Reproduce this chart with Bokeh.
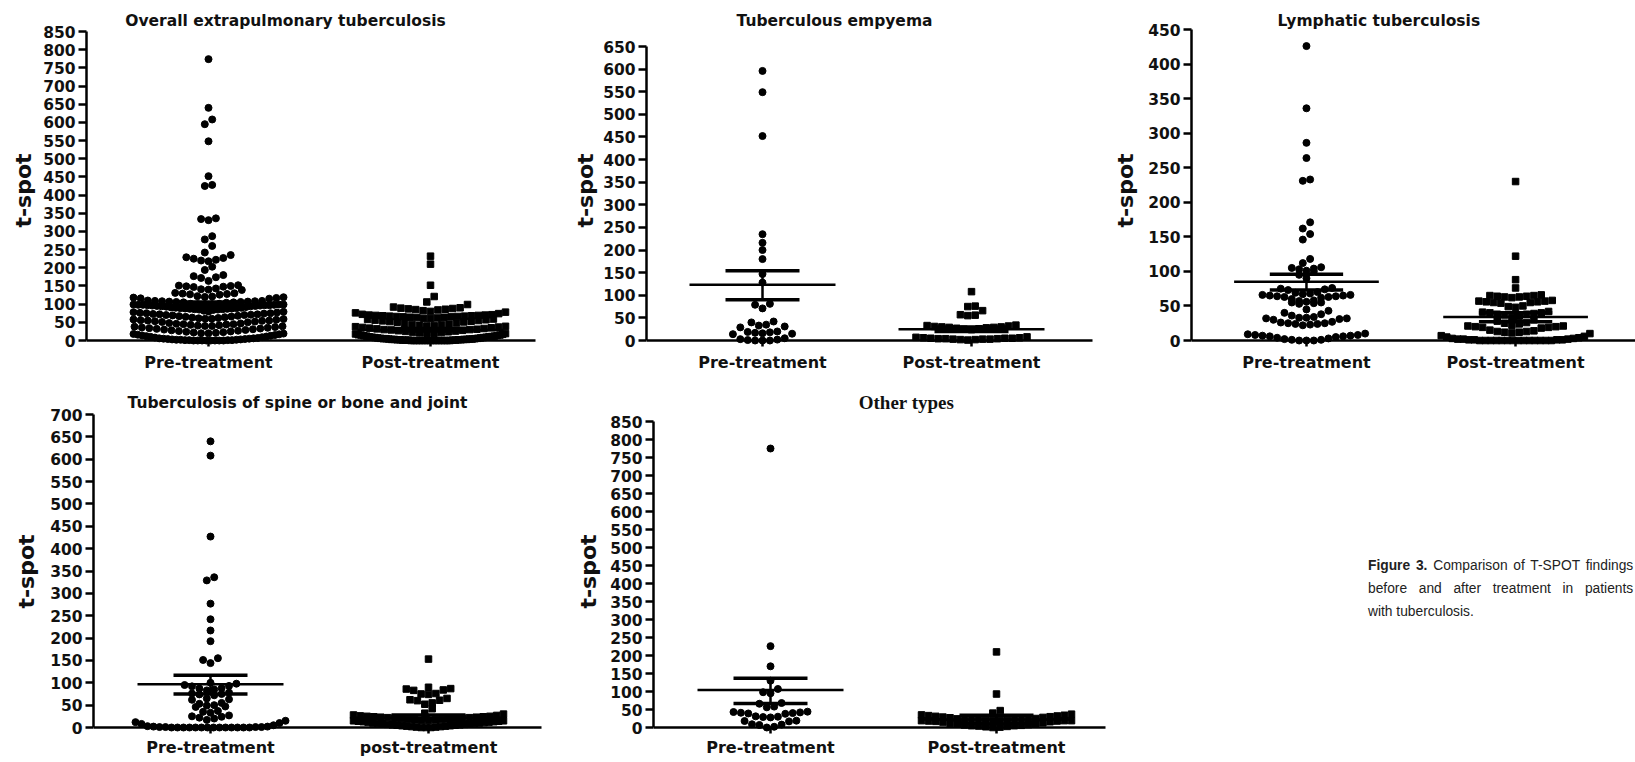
import numpy as np
from bokeh.plotting import figure
from bokeh.models import Range1d, FixedTicker, LinearAxis, Div
from bokeh.layouts import row, column
from bokeh.embed import file_html
from bokeh.resources import INLINE
from bokeh.core.properties import value

# ---------------- data ----------------
x_labels = ["Pre-treatment", "Post-treatment"]
x_labels_spine = ["Pre-treatment", "post-treatment"]

titles = ["Overall extrapulmonary tuberculosis", "Tuberculous empyema",
          "Lymphatic tuberculosis", "Tuberculosis of spine or bone and joint",
          "Other types"]

y_label = "t-spot"
y_tops = [850, 650, 450, 700, 850]

overall_pre = [774, 640, 608, 595, 548, 452, 428, 425, 336, 334, 331, 287, 278, 260, 242, 235,
               229, 227, 225, 222, 220, 218, 203, 194, 180, 177, 174, 172, 164, 152, 151, 150,
               149, 148, 147, 143, 141, 140, 139, 131, 130, 129, 128, 127, 126, 122, 121, 120,
               119, 118, 117, 116, 115, 110, 109, 109, 108, 108, 107, 107, 106, 106, 105, 105, 104,
               101, 101, 100, 100, 100, 99, 99, 99, 98, 98, 98, 97, 97, 97, 96, 96, 95, 95, 94, 94,
               93, 92, 91, 90, 90, 89, 89, 88, 88, 87, 87, 86, 86, 85, 85, 84,
               82, 80, 79, 78, 77, 76, 75, 75, 74, 73, 72, 72, 71, 70, 70, 69, 68, 67,
               66, 65, 64, 63, 62, 61, 60, 60, 59, 58, 57, 56, 55, 55, 54, 53, 52, 51, 50,
               48, 47, 46, 45, 45, 44, 43, 42, 41, 40, 40, 39, 38, 37, 36, 35, 34, 33, 32, 31, 30,
               29, 28, 27, 26, 25, 24, 23, 22, 21, 20, 20, 19, 18, 17, 16, 15, 14, 13, 12,
               11, 10, 9, 8, 7, 6, 6, 5, 5, 4, 4, 3, 3, 2, 2, 2, 1, 1, 1, 1, 0, 0, 0, 0, 0, 0, 0, 0]
overall_post = [232, 210, 152, 121, 106, 99, 92, 90, 89, 88, 87, 86, 85, 84, 82, 80, 78, 76, 74,
                72, 71, 70, 70, 69, 69, 68, 68, 67, 67, 66, 66, 65, 65, 64, 64, 63, 62, 61, 60,
                59, 58, 57, 56, 55, 54, 53, 52, 51, 50, 48, 46, 45, 44, 43, 42, 41, 40, 39, 38,
                37, 36, 35, 34, 33, 32, 31, 30, 30, 29, 28, 27, 26, 25, 24, 23, 22, 21, 20, 20,
                19, 18, 17, 16, 15, 15, 14, 13, 12, 12, 11, 10, 10, 9, 9, 8, 8, 7, 7, 6, 6, 5, 5,
                5, 4, 4, 4, 3, 3, 3, 3, 2, 2, 2, 2, 1, 1, 1, 1, 1, 0, 0, 0, 0, 0, 0, 0, 0, 0, 0,
                0, 0, 0, 0, 0]

empyema_pre = [596, 549, 452, 235, 216, 200, 180, 147, 128, 81, 79, 71, 42, 40, 35, 33, 31, 29,
               20, 19, 18, 17, 16, 15, 14, 5, 3, 2, 1, 0, 0, 0]
empyema_post = [108, 76, 75, 66, 57, 56, 55, 34, 33, 32, 31, 30, 30, 29, 29, 28, 27, 26, 25, 24,
                8, 7, 6, 6, 5, 5, 5, 4, 4, 4, 3, 3, 3, 2, 2, 1]

lymph_pre = [426, 336, 286, 264, 233, 231, 171, 162, 154, 146, 118, 112, 106, 105, 104, 103, 101,
             100, 95, 90, 76, 75, 74, 73, 70, 69, 68, 67, 66, 66, 65, 65, 64, 64, 63, 63, 62, 60,
             58, 57, 56, 55, 55, 54, 53, 45, 43, 40, 38, 36, 34, 33, 33, 32, 32, 31, 30, 27, 26,
             25, 25, 24, 24, 23, 22, 10, 9, 8, 8, 7, 7, 6, 6, 5, 4, 3, 2, 1, 1, 0, 0, 0]
lymph_post = [230, 122, 88, 76, 66, 65, 65, 64, 64, 63, 63, 62, 58, 57, 57, 56, 56, 55, 55, 54,
              50, 49, 48, 42, 41, 40, 40, 39, 38, 38, 37, 35, 33, 30, 28, 26, 25, 24, 22, 21, 21,
              20, 20, 19, 19, 18, 15, 14, 13, 13, 12, 12, 11, 10, 7, 6, 5, 4, 3, 3, 2, 2, 2, 1, 1,
              1, 1, 0, 0, 0, 0, 0, 0, 0, 0, 0, 0, 0, 0, 0, 0]

spine_pre = [640, 608, 427, 336, 329, 277, 242, 217, 193, 155, 151, 144, 100, 98, 95, 93, 92, 88,
             87, 85, 83, 78, 76, 75, 74, 72, 65, 63, 62, 55, 53, 50, 49, 47, 46, 37, 35, 33, 27,
             25, 24, 22, 20, 17, 15, 12, 10, 8, 5, 3, 2, 2, 1, 1, 1, 1, 0, 0, 0, 0, 0, 0, 0, 0,
             0, 0, 0, 0, 0, 0]
spine_post = [153, 90, 87, 86, 84, 83, 76, 75, 74, 65, 62, 61, 60, 55, 52, 42, 32, 30, 28, 27, 26,
              25, 25, 24, 24, 23, 23, 22, 22, 21, 21, 20, 20, 19, 18, 18, 17, 17, 16, 16, 15, 15,
              14, 14, 13, 13, 12, 12, 11, 10, 10, 9, 9, 8, 8, 7, 7, 6, 6, 5, 5, 4, 4, 3, 3, 2, 2,
              1, 1, 0, 0, 0]

other_pre = [775, 226, 170, 130, 107, 98, 95, 68, 66, 58, 56, 44, 43, 42, 41, 40, 39, 38, 31, 30,
             29, 28, 19, 18, 17, 9, 8, 7, 2, 0]
other_post = [210, 93, 47, 40, 37, 35, 34, 33, 32, 31, 30, 29, 28, 27, 25, 24, 23, 22, 22, 21, 21,
              21, 20, 20, 20, 20, 19, 19, 19, 18, 18, 17, 16, 15, 13, 12, 10, 9, 8, 7, 6, 5, 5, 4,
              3, 2, 1, 0]

# mean and SEM: [pre, post]
means = [[98, 29], [123, 25], [85, 34], [97, 22], [104, 22]]
sem_hi = [[106, 33], [154, 30], [96, 40], [117, 28], [137, 34]]
sem_lo = [[90, 26], [90, 20], [73, 27], [75, 17], [67, 10]]

# ---------------- layout geometry (screen pixels, page origin) ----------------
geo = [
    dict(fl=0,    ft=0,   fw=566, fh=380, frl=86,   z=340, t=31,  c1=208,  c2=430,  ae=535,  tx=285,  ty=20),
    dict(fl=566,  ft=0,   fw=544, fh=380, frl=646,  z=340, t=46,  c1=762,  c2=971,  ae=1092, tx=834,  ty=20),
    dict(fl=1110, ft=0,   fw=525, fh=380, frl=1187, z=340, t=29,  c1=1303, c2=1514, ae=1635, tx=1376, ty=20),
    dict(fl=0,    ft=380, fw=566, fh=382, frl=93,   z=727, t=414, c1=210,  c2=428,  ae=541,  tx=297,  ty=402),
    dict(fl=566,  ft=380, fw=544, fh=382, frl=653,  z=727, t=421, c1=770,  c2=996,  ae=1105, tx=906,  ty=402),
]
label_standoffs = [4, 2, 7, 8, 6]

DOT = 7.0
SQ = 6.5
MEAN_W = 146.0
SEM_W = 74.0


def swarm(vals, ppx, ppy, bin_px=7.0, step_px=7.4, max_px=150.0):
    vals = np.asarray(vals, float)
    order = np.argsort(vals, kind="stable")
    xs = np.zeros(len(vals))
    bins, cur, start = [], [], None
    for i in order:
        ypx = vals[i] * ppy
        if start is None or ypx - start >= bin_px:
            if cur:
                bins.append(cur)
            cur, start = [i], ypx
        else:
            cur.append(i)
    if cur:
        bins.append(cur)
    for b in bins:
        n = len(b)
        step = step_px if n <= 1 else min(step_px, max_px / (n - 1))
        slots = sorted(range(n), key=lambda s: (abs(s - (n - 1) / 2.0), s))
        for k, i in enumerate(b):
            xs[i] = (slots[k] - (n - 1) / 2.0) * step / ppx
    return xs


def make_panel(idx, pre, post, labels, title_font, title_size, label_standoff):
    g = geo[idx]
    top = y_tops[idx]
    ppy = (g["z"] - g["t"]) / top
    ppx = float(g["c2"] - g["c1"])
    frame_right = g["fl"] + g["fw"]
    frame_bottom = g["ft"] + g["fh"]
    y0 = -(frame_bottom - g["z"]) / ppy
    y1 = top + (g["t"] - g["ft"]) / ppy
    x0 = 1 - (g["c1"] - g["frl"]) / ppx
    x1 = 1 + (frame_right - g["c1"]) / ppx
    xae = 1 + (g["ae"] - g["c1"]) / ppx

    p = figure(width=g["fw"], height=g["fh"], x_range=Range1d(x0, x1), y_range=Range1d(y0, y1),
               x_axis_type=None, y_axis_type=None, toolbar_location=None, output_backend="svg",
               min_border_left=g["frl"] - g["fl"], min_border_right=0, min_border_top=0,
               min_border_bottom=0)
    p.outline_line_color = None
    p.background_fill_color = "white"
    p.border_fill_color = "white"

    yax = LinearAxis(ticker=FixedTicker(ticks=list(range(0, top + 1, 50))), bounds=(0, top),
                     axis_label=y_label)
    yax.axis_line_width = 2.5
    yax.axis_line_color = "black"
    yax.major_tick_line_width = 2.5
    yax.major_tick_line_color = "black"
    yax.major_tick_out = 8
    yax.major_tick_in = 0
    yax.minor_tick_line_color = None
    yax.major_label_standoff = 3
    yax.major_label_text_font = "DejaVu Sans"
    yax.major_label_text_font_size = "15.5px"
    yax.major_label_text_font_style = "bold"
    yax.major_label_text_color = "#111111"
    yax.axis_label_text_font = "DejaVu Sans"
    yax.axis_label_text_font_size = "22px"
    yax.axis_label_text_font_style = "bold"
    yax.axis_label_text_color = "#111111"
    yax.axis_label_standoff = label_standoffs[idx]
    p.add_layout(yax, "left")

    xax = LinearAxis(ticker=FixedTicker(ticks=[1, 2]), bounds=(x0, xae), fixed_location=0,
                     major_label_overrides={1: labels[0], 2: labels[1]})
    xax.axis_line_width = 2.5
    xax.axis_line_color = "black"
    xax.major_tick_line_width = 2.5
    xax.major_tick_line_color = "black"
    xax.major_tick_out = 6
    xax.major_tick_in = 0
    xax.minor_tick_line_color = None
    xax.major_label_standoff = label_standoff
    xax.major_label_text_font = "DejaVu Sans"
    xax.major_label_text_font_size = "16px"
    xax.major_label_text_font_style = "bold"
    xax.major_label_text_color = "#111111"
    p.add_layout(xax, "below")

    xs_pre = 1 + swarm(pre, ppx, ppy)
    xs_post = 2 + swarm(post, ppx, ppy)
    p.scatter(x=xs_pre, y=pre, marker="circle", size=DOT, color="black")
    p.scatter(x=xs_post, y=post, marker="square", size=SQ, color="black")

    cats = [1, 2]
    mw = MEAN_W / 2 / ppx
    sw = SEM_W / 2 / ppx
    p.segment(x0=[c - mw for c in cats], x1=[c + mw for c in cats], y0=means[idx], y1=means[idx],
              line_color="black", line_width=2.5)
    p.segment(x0=[c - sw for c in cats], x1=[c + sw for c in cats], y0=sem_hi[idx], y1=sem_hi[idx],
              line_color="black", line_width=3.5)
    p.segment(x0=[c - sw for c in cats], x1=[c + sw for c in cats], y0=sem_lo[idx], y1=sem_lo[idx],
              line_color="black", line_width=3.5)
    p.segment(x0=cats, x1=cats, y0=sem_lo[idx], y1=sem_hi[idx], line_color="black", line_width=2.5)

    tx = 1 + (g["tx"] - g["c1"]) / ppx
    ty = (g["z"] - g["ty"]) / ppy
    p.text(x=[tx], y=[ty], text=[titles[idx]], text_font=value(title_font),
           text_font_size=value(title_size), text_font_style="bold", text_align="center",
           text_baseline="middle", text_color="#111111")
    return p


p1 = make_panel(0, overall_pre, overall_post, x_labels, "DejaVu Sans", "15.5px", 6)
p2 = make_panel(1, empyema_pre, empyema_post, x_labels, "DejaVu Sans", "15.5px", 6)
p3 = make_panel(2, lymph_pre, lymph_post, x_labels, "DejaVu Sans", "15.5px", 6)
p4 = make_panel(3, spine_pre, spine_post, x_labels_spine, "DejaVu Sans", "15.5px", 4)
p5 = make_panel(4, other_pre, other_post, x_labels, "Liberation Serif", "19px", 4)

line_style = "width:298px;white-space:nowrap;"
caption_html = (
    '<div style="padding-left:258px;padding-top:173px;font-family:\'Liberation Sans\',Arial,sans-serif;'
    'font-size:15.5px;line-height:23px;color:#222;">'
    '<div style="width:298px;transform:scaleX(0.89);transform-origin:0 0;">'
    '<div style="' + line_style + 'text-align:justify;text-align-last:justify;">'
    '<b>Figure 3.</b> Comparison of T-SPOT findings</div>'
    '<div style="' + line_style + 'text-align:justify;text-align-last:justify;">'
    'before and after treatment in patients</div>'
    '<div style="' + line_style + '">with tuberculosis.</div>'
    '</div></div>'
)
caption = Div(text=caption_html, width=525, height=382, margin=(0, 0, 0, 0))

layout = column(row(p1, p2, p3), row(p4, p5, caption))

open("out.html", "w").write(file_html(layout, INLINE))
